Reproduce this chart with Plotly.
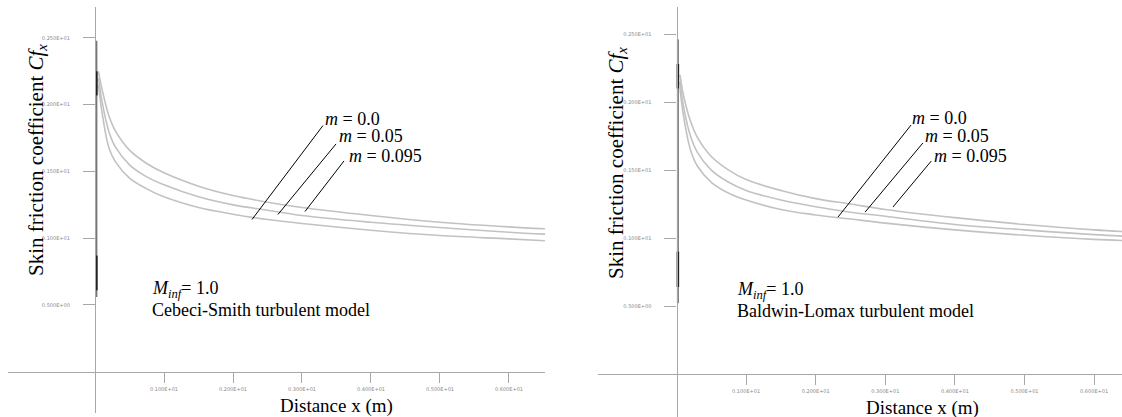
import plotly.graph_objects as go

# ---------------- data ----------------
x_pts = [0.05, 0.1, 0.2, 0.3, 0.5, 0.75, 1.0, 1.5, 2.0, 2.5, 3.0, 4.0, 5.0, 6.0, 6.55]

# Cebeci-Smith (left panel)
cs_top = [2.25, 2.12, 1.92, 1.80, 1.66, 1.56, 1.49, 1.39, 1.32, 1.27, 1.23, 1.17, 1.12, 1.085, 1.07]
cs_mid = [2.20, 2.03, 1.80, 1.68, 1.55, 1.46, 1.40, 1.31, 1.25, 1.21, 1.17, 1.12, 1.08, 1.045, 1.03]
cs_bot = [2.15, 1.95, 1.68, 1.57, 1.45, 1.37, 1.31, 1.23, 1.18, 1.14, 1.11, 1.06, 1.02, 0.995, 0.98]

# Baldwin-Lomax (right panel)
bl_top = [2.20, 2.05, 1.86, 1.74, 1.60, 1.50, 1.43, 1.35, 1.29, 1.25, 1.21, 1.15, 1.10, 1.06, 1.045]
bl_mid = [2.15, 1.97, 1.75, 1.63, 1.50, 1.41, 1.35, 1.28, 1.23, 1.19, 1.16, 1.10, 1.06, 1.025, 1.01]
bl_bot = [2.10, 1.90, 1.65, 1.53, 1.41, 1.33, 1.28, 1.21, 1.17, 1.14, 1.11, 1.06, 1.02, 0.99, 0.98]

# leading-edge spike (values at x ~ 0)
le_x = [0.02, 0.02]
le_y_left = [2.48, 0.56]
le_y_right = [2.46, 0.52]
le_dark_left = [[2.25, 2.07], [0.87, 0.61]]
le_dark_right = [[2.28, 2.10], [0.90, 0.64]]

# leader lines for m labels: (x0, y0, x1, y1)
m_labels = ["m = 0.0", "m = 0.05", "m = 0.095"]
lead_left = [(2.275, 1.140, 3.304, 1.844), (2.652, 1.178, 3.493, 1.706), (3.043, 1.200, 3.609, 1.579)]
lead_right = [(2.32, 1.154, 3.37, 1.831), (2.71, 1.191, 3.54, 1.699), (3.11, 1.228, 3.66, 1.566)]
lab_left = [(3.30, 1.893), (3.51, 1.766), (3.65, 1.616)]
lab_right = [(3.355, 1.882), (3.54, 1.75), (3.67, 1.60)]

x_tickvals = [1, 2, 3, 4, 5, 6]
x_ticktext = ["0.100E+01", "0.200E+01", "0.300E+01", "0.400E+01", "0.500E+01", "0.600E+01"]
y_tickvals = [0.5, 1.0, 1.5, 2.0, 2.5]
y_ticktext = ["0.500E+00", "0.100E+01", "0.150E+01", "0.200E+01", "0.250E+01"]

models = ["Cebeci-Smith turbulent model", "Baldwin-Lomax turbulent model"]

# ---------------- figure ----------------
W, H = 1122, 417
FONT = "Liberation Serif"
CURVE = "#c2c2c2"
AXC = "#a8a8a8"

fig = go.Figure()

panels = [
    dict(xa="x", ya="y", curves=[cs_top, cs_mid, cs_bot], le=le_y_left, dark=le_dark_left,
         lead=lead_left, lab=lab_left, model=models[0]),
    dict(xa="x2", ya="y2", curves=[bl_top, bl_mid, bl_bot], le=le_y_right, dark=le_dark_right,
         lead=lead_right, lab=lab_right, model=models[1]),
]

for p in panels:
    for c in p["curves"]:
        fig.add_trace(go.Scatter(x=x_pts, y=c, mode="lines", xaxis=p["xa"], yaxis=p["ya"],
                                 line=dict(color=CURVE, width=1.6, shape="spline"),
                                 showlegend=False, hoverinfo="skip"))
    fig.add_trace(go.Scatter(x=le_x, y=p["le"], mode="lines", xaxis=p["xa"], yaxis=p["ya"],
                             line=dict(color="#777777", width=2), showlegend=False, hoverinfo="skip"))
    for seg in p["dark"]:
        fig.add_trace(go.Scatter(x=le_x, y=seg, mode="lines", xaxis=p["xa"], yaxis=p["ya"],
                                 line=dict(color="#222222", width=2.5), showlegend=False, hoverinfo="skip"))
    for (x0, y0, x1, y1) in p["lead"]:
        fig.add_trace(go.Scatter(x=[x0, x1], y=[y0, y1], mode="lines", xaxis=p["xa"], yaxis=p["ya"],
                                 line=dict(color="black", width=1), showlegend=False, hoverinfo="skip"))
    for (lx, ly), t in zip(p["lab"], m_labels):
        fig.add_annotation(x=lx, y=ly, xref=p["xa"], yref=p["ya"], xanchor="left", yanchor="middle",
                           text="<i>m</i>" + t[1:], showarrow=False,
                           font=dict(family=FONT, size=18, color="black"))

# model annotations
ann_pos = [("x", "y", 0.80), ("x2", "y2", 0.84)]
for (xa, ya, xx), model in zip(ann_pos, models):
    fig.add_annotation(x=xx, y=0.615, xref=xa, yref=ya, xanchor="left", yanchor="middle",
                       text="<i>M</i><sub><i>inf</i></sub>= 1.0", showarrow=False,
                       font=dict(family=FONT, size=18, color="black"))
    fig.add_annotation(x=xx, y=0.465, xref=xa, yref=ya, xanchor="left", yanchor="middle",
                       text=model, showarrow=False,
                       font=dict(family=FONT, size=18, color="black"))

# axis titles
for cx, cy in [(336, 406), (922, 408)]:
    fig.add_annotation(x=cx / W, y=1 - cy / H, xref="paper", yref="paper", xanchor="center",
                       yanchor="middle", text="Distance x (m)", showarrow=False,
                       font=dict(family=FONT, size=19, color="black"))
for cx, cy in [(37, 160), (617, 163)]:
    fig.add_annotation(x=cx / W, y=1 - cy / H, xref="paper", yref="paper", xanchor="center",
                       yanchor="middle", textangle=-90,
                       text="Skin friction coefficient <i>Cf</i><sub><i>x</i></sub>", showarrow=False,
                       font=dict(family=FONT, size=21, color="black"))

def xaxis(domain, rng, pos):
    return dict(domain=domain, range=rng, anchor="free", position=pos, showline=True,
                linecolor=AXC, linewidth=1.2, showgrid=False, zeroline=False,
                ticks="outside", ticklen=10, tickcolor=AXC, tickwidth=1,
                tickvals=x_tickvals, ticktext=x_ticktext, ticklabelstandoff=2,
                tickfont=dict(family="DejaVu Sans", size=5, color="#888888"))

def yaxis(domain, rng, pos):
    return dict(domain=domain, range=rng, anchor="free", position=pos, showline=True,
                linecolor=AXC, linewidth=1.2, showgrid=False, zeroline=False,
                ticks="outside", ticklen=12, tickcolor=AXC, tickwidth=1,
                tickvals=y_tickvals, ticktext=y_ticktext, ticklabelstandoff=12,
                tickfont=dict(family="DejaVu Sans", size=5, color="#888888"))

fig.update_layout(
    width=W, height=H, margin=dict(l=0, r=0, t=0, b=0),
    paper_bgcolor="white", plot_bgcolor="white", showlegend=False,
    xaxis=xaxis([8 / W, 545 / W], [-1.261, 6.522], 1 - 371.75 / H),
    yaxis=yaxis([1 - 413 / H, 1 - 7 / H], [-0.309, 2.732], 95 / W),
    xaxis2=xaxis([598 / W, 1.0], [-1.128, 6.401], 1 - 374 / H),
    yaxis2=yaxis([0.0, 1 - 7 / H], [-0.316, 2.699], 676.5 / W),
)

fig.write_html("out.html", config={"displayModeBar": False},
               post_script="document.body.style.margin='0';document.body.style.overflow='hidden';")
